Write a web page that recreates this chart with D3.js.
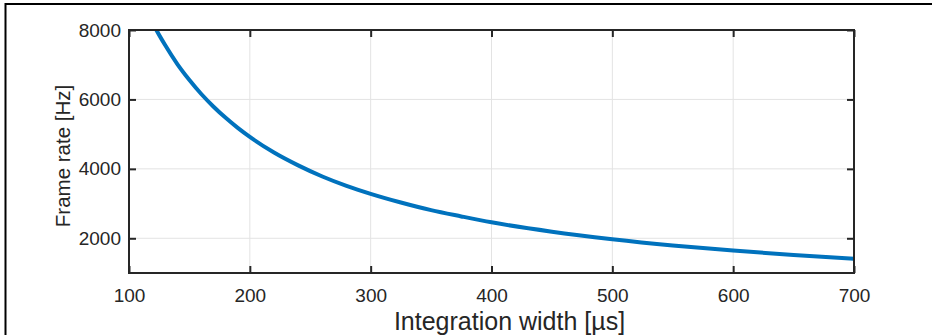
<!DOCTYPE html>
<html>
<head>
<meta charset="utf-8">
<script src="https://cdn.jsdelivr.net/npm/d3@7"></script>
<style>
  body { margin: 0; background: #fff; }
  svg text { font-family: "Liberation Sans", Arial, Helvetica, sans-serif; fill: #262626; }
</style>
</head>
<body>
<div id="chart"></div>
<script>
// integration width [µs] and frame rate [Hz]
const widths = [120, 123, 130, 140, 150, 160, 170, 180, 190, 200, 220, 240, 260, 280, 300,
                325, 350, 375, 400, 450, 500, 550, 600, 650, 700];
const rates  = [8180, 7980, 7560, 7020, 6560, 6150, 5790, 5470, 5180, 4920, 4470, 4100, 3780, 3510, 3280,
                3030, 2810, 2630, 2460, 2190, 1975, 1795, 1645, 1520, 1410];

const xTicks = [100, 200, 300, 400, 500, 600, 700];
const yTicks = [2000, 4000, 6000, 8000];

const xLabel = 'Integration width [µs]';
const yLabel = 'Frame rate [Hz]';

const width = 932, height = 335;
const margin = {top: 30, right: 78, bottom: 62, left: 129};

const svg = d3.select('#chart').append('svg')
    .attr('width', width)
    .attr('height', height);

svg.append('rect').attr('width', width).attr('height', height).attr('fill', '#fff');

// frame of the exported figure (only top and left edges show)
svg.append('line').attr('x1', 5).attr('x2', width).attr('y1', 4).attr('y2', 4)
    .attr('stroke', '#000').attr('stroke-width', 2);
svg.append('line').attr('x1', 5.5).attr('x2', 5.5).attr('y1', 3).attr('y2', height)
    .attr('stroke', '#000').attr('stroke-width', 2);

const x = d3.scaleLinear().domain([100, 700]).range([margin.left, width - margin.right]);
const y = d3.scaleLinear().domain([1000, 8000]).range([height - margin.bottom, margin.top]);

const x0 = x.range()[0], x1 = x.range()[1];
const y0 = y.range()[0], y1 = y.range()[1];

// grid
svg.append('g').selectAll('line')
    .data(xTicks.slice(1, -1))
    .enter().append('line')
    .attr('x1', d => x(d)).attr('x2', d => x(d))
    .attr('y1', y1).attr('y2', y0)
    .attr('stroke', '#e3e3e3').attr('stroke-width', 1);

svg.append('g').selectAll('line')
    .data(yTicks.filter(d => d < 8000))
    .enter().append('line')
    .attr('x1', x0).attr('x2', x1)
    .attr('y1', d => y(d)).attr('y2', d => y(d))
    .attr('stroke', '#e3e3e3').attr('stroke-width', 1);

// curve, clipped to the axes
svg.append('clipPath').attr('id', 'clip')
    .append('rect').attr('x', x0).attr('y', y1).attr('width', x1 - x0).attr('height', y0 - y1);

const line = d3.line()
    .x((d, i) => x(widths[i]))
    .y(d => y(d))
    .curve(d3.curveMonotoneX);

svg.append('path')
    .datum(rates)
    .attr('clip-path', 'url(#clip)')
    .attr('fill', 'none')
    .attr('stroke', '#0072bd')
    .attr('stroke-width', 4)
    .attr('d', line);

// axes: inward ticks on all sides
const tick = 7;
const fmt = d3.format('d');
svg.append('g').attr('transform', 'translate(0,' + y0 + ')')
    .call(d3.axisBottom(x).tickValues(xTicks).tickFormat(fmt).tickSizeInner(-tick).tickSizeOuter(0).tickPadding(16));
svg.append('g').attr('transform', 'translate(0,' + y1 + ')')
    .call(d3.axisTop(x).tickValues(xTicks).tickSizeInner(-tick).tickSizeOuter(0).tickFormat(''));
svg.append('g').attr('transform', 'translate(' + x0 + ',0)')
    .call(d3.axisLeft(y).tickValues(yTicks).tickFormat(fmt).tickSizeInner(-tick).tickSizeOuter(0).tickPadding(8));
svg.append('g').attr('transform', 'translate(' + x1 + ',0)')
    .call(d3.axisRight(y).tickValues(yTicks).tickSizeInner(-tick).tickSizeOuter(0).tickFormat(''));

svg.selectAll('.domain').remove();
svg.selectAll('.tick line').attr('stroke', '#262626').attr('stroke-width', 2);
svg.selectAll('.tick text').attr('font-size', 19).attr('fill', '#262626')
    .attr('font-family', '"Liberation Sans", Arial, sans-serif');

svg.append('rect')
    .attr('x', x0).attr('y', y1)
    .attr('width', x1 - x0).attr('height', y0 - y1)
    .attr('fill', 'none').attr('stroke', '#262626').attr('stroke-width', 2);

// labels
svg.append('text')
    .attr('x', 509.5).attr('y', 330)
    .attr('text-anchor', 'middle')
    .attr('font-size', 25)
    .text(xLabel);

svg.append('text')
    .attr('transform', 'translate(70,156) rotate(-90)')
    .attr('text-anchor', 'middle')
    .attr('font-size', 20.5)
    .text(yLabel);
</script>
</body>
</html>
